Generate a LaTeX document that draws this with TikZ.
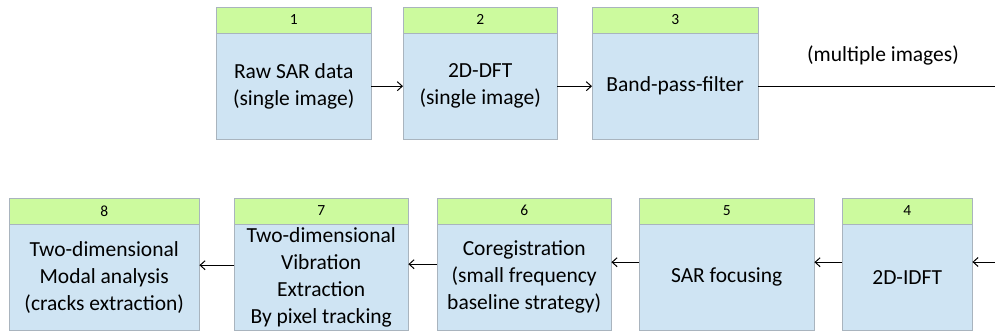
\documentclass[tikz,border=0pt]{standalone}
\usepackage{fontspec}
\setmainfont{Carlito}
\usetikzlibrary{arrows.meta}
\definecolor{vert}{HTML}{CCFA9E}
\definecolor{bleu}{HTML}{CFE4F3}
\definecolor{bord}{HTML}{A9B4BE}

\begin{document}
\begin{tikzpicture}[x=1pt, y=-1pt,
	corps/.style={draw=bord, fill=bleu, minimum height=106pt, inner sep=0pt, align=center, anchor=north west, font=\fontsize{21.5}{27}\selectfont},
	tete/.style={draw=bord, fill=vert, minimum height=26pt, inner sep=0pt, anchor=south, font=\fontsize{15.5}{17}\selectfont},
	fleche/.style={-{Straight Barb[length=5pt, width=9pt]}, line width=1pt, black}]
				\useasboundingbox (0,0) rectangle (995,332);
				% ligne du haut
				\node[corps, minimum width=155pt] (b1) at (216,33) {Raw SAR data\\(single image)};
				\node[tete, minimum width=155pt] (h1) at (b1.north) {1};
				\node[corps, minimum width=154pt] (b2) at (403,33) {2D-DFT\\(single image)};
				\node[tete, minimum width=154pt] (h2) at (b2.north) {2};
				\node[corps, minimum width=166pt] (b3) at (592,33) {Band-pass-filter};
				\node[tete, minimum width=166pt] (h3) at (b3.north) {3};
				\node[font=\fontsize{21.5}{27}\selectfont] (multi) at (883,55) {(multiple images)};
				\coordinate (rt) at (995,87);
				% ligne du bas
				\node[corps, minimum width=130pt] (b4) at (842,224) {2D-IDFT};
				\node[tete, minimum width=130pt] (h4) at (b4.north) {4};
				\node[corps, minimum width=175pt] (b5) at (639,224) {SAR focusing};
				\node[tete, minimum width=175pt] (h5) at (b5.north) {5};
				\node[corps, minimum width=174pt] (b6) at (437,224) {Coregistration\\(small frequency\\baseline strategy)};
				\node[tete, minimum width=174pt] (h6) at (b6.north) {6};
				\node[corps, minimum width=174pt] (b7) at (234,224) {Two-dimensional\\Vibration\\Extraction\\By pixel tracking};
				\node[tete, minimum width=174pt] (h7) at (b7.north) {7};
				\node[corps, minimum width=190pt] (b8) at (9,224) {Two-dimensional\\Modal analysis\\(cracks extraction)};
				\node[tete, minimum width=190pt] (h8) at (b8.north) {8};
				\coordinate (rb) at (995,262);
				% fleches
				\draw[fleche] (b1) -- (b2);
				\draw[fleche] (b2) -- (b3);
				\draw[line width=1pt] (b3.east) -- (b3.east -| rt);
				\draw[fleche] (rb) -- (rb -| b4.east);
				\draw[fleche] ([yshift=15pt]b4.west) -- ([yshift=15pt]b5.east);
				\draw[fleche] ([yshift=15pt]b5.west) -- ([yshift=15pt]b6.east);
				\draw[fleche] ([yshift=13pt]b6.west) -- ([yshift=13pt]b7.east);
				\draw[fleche] ([yshift=12pt]b7.west) -- ([yshift=12pt]b8.east);
\end{tikzpicture}
\end{document}
